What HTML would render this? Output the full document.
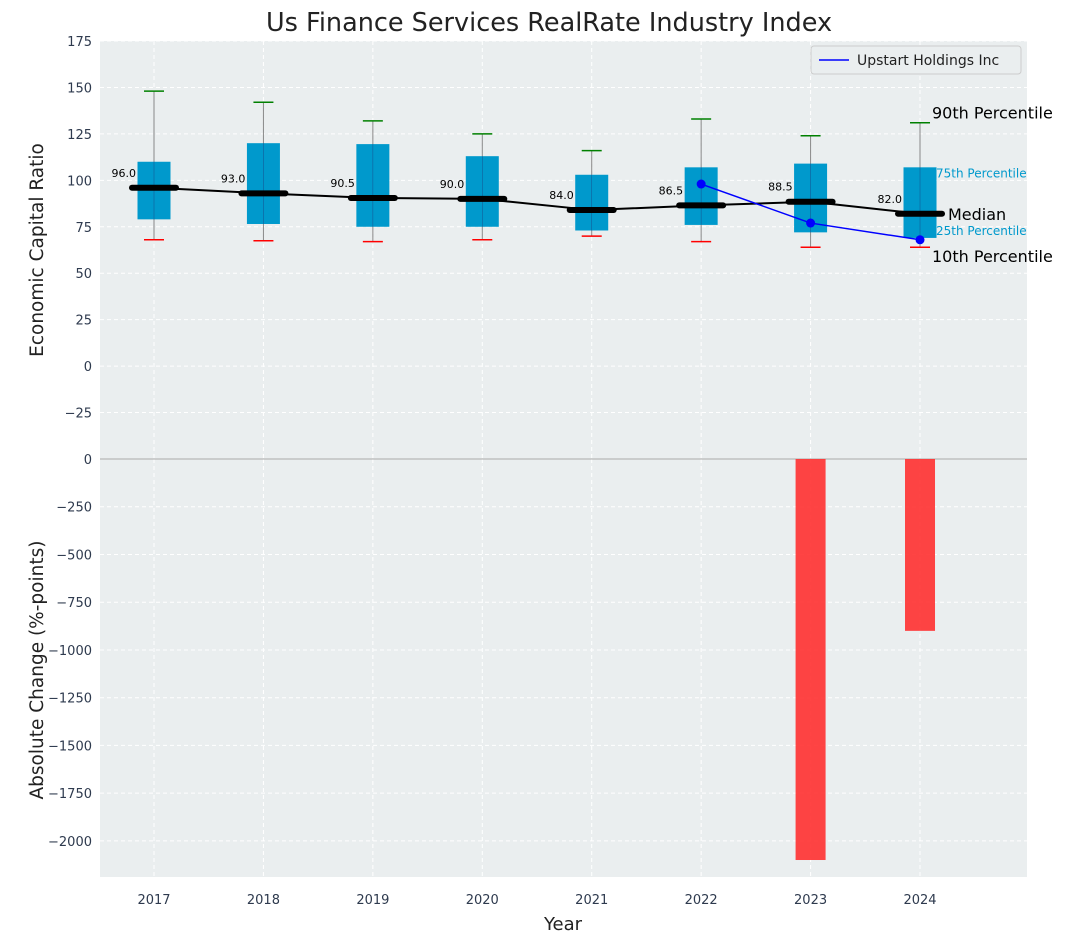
<!DOCTYPE html>
<html><head><meta charset="utf-8"><style>
html,body{margin:0;padding:0;background:#fff;}
svg{display:block;font-family:"DejaVu Sans","Liberation Sans",sans-serif;}
</style></head><body>
<svg id="chart" width="1067" height="942" viewBox="0 0 1067 942" xmlns="http://www.w3.org/2000/svg">
<text x="549" y="31" font-size="25.5" text-anchor="middle" fill="#222">Us Finance Services RealRate Industry Index</text>
<g id="topPanel"></g>
<g id="botPanel"></g>
</svg>
<script>
const years=[2017,2018,2019,2020,2021,2022,2023,2024];
const p10=[68,67.5,67,68,70,67,64,64];
const p25=[79,76.5,75,75,73,76,72,69];
const med=[96,93,90.5,90,84,86.5,88.5,82];
const p75=[110,120,119.5,113,103,107,109,107];
const p90=[148,142,132,125,116,133,124,131];
const compYears=[2022,2023,2024];
const compVals=[98,77,68];
const changeYears=[2023,2024];
const changeVals=[-2100,-900];
const topTicks=[175,150,125,100,75,50,25,0,-25];
const botTicks=[0,-250,-500,-750,-1000,-1250,-1500,-1750,-2000];

const NS="http://www.w3.org/2000/svg";
const L=100,R=1027;
const x=v=>154+(v-2017)*109.43;
const yt=v=>459-(v+50)/225*418;
const yb=v=>459-v/2189*418;
function mk(p,tag,a,txt){const el=document.createElementNS(NS,tag);for(const k in a)el.setAttribute(k,a[k]);if(txt!==undefined)el.textContent=txt;p.appendChild(el);return el;}
const topG=document.getElementById('topPanel'),botG=document.getElementById('botPanel');

let e=mk(topG,'rect',{x:L,y:41,width:R-L,height:418,fill:'#eaeeef'});


e=mk(botG,'rect',{x:L,y:459,width:R-L,height:418,fill:'#eaeeef'});



topTicks.forEach(t=>{const Y=yt(t);
 mk(topG,'line',{x1:L,x2:R,y1:Y,y2:Y,stroke:'#fff','stroke-dasharray':'4,3','stroke-width':1});
 e=mk(topG,'text',{x:L-8,y:Y+5,'font-size':13,'text-anchor':'end',fill:'#2e3a4e'},String(t).replace('-','−'));
 
 });
botTicks.forEach(t=>{const Y=yb(t);
 mk(botG,'line',{x1:L,x2:R,y1:Y,y2:Y,stroke:'#fff','stroke-dasharray':'4,3','stroke-width':1});
 e=mk(botG,'text',{x:L-8,y:Y+5,'font-size':13,'text-anchor':'end',fill:'#2e3a4e'},String(t).replace('-','−'));
 
 });
years.forEach(yr=>{const X=x(yr);
 mk(topG,'line',{x1:X,x2:X,y1:41,y2:459,stroke:'#fff','stroke-dasharray':'4,3'});
 mk(botG,'line',{x1:X,x2:X,y1:459,y2:877,stroke:'#fff','stroke-dasharray':'4,3'});
 e=mk(botG,'text',{x:X,y:904,'font-size':13,'text-anchor':'middle',fill:'#2e3a4e'},yr);
 
 });
mk(botG,'line',{x1:L,x2:R,y1:yb(0),y2:yb(0),stroke:'#aaa','stroke-width':1});

years.forEach((yr,i)=>{const X=x(yr);
 mk(topG,'line',{x1:X,x2:X,y1:yt(p10[i]),y2:yt(p90[i]),stroke:'#888','stroke-width':1});
 e=mk(topG,'rect',{x:X-16.5,y:yt(p75[i]),width:33,height:yt(p25[i])-yt(p75[i]),fill:'#0099cc'});
 
 
 mk(topG,'line',{x1:X,x2:X,y1:yt(p75[i]),y2:yt(p25[i]),stroke:'#226','stroke-width':0.6,opacity:0.5});
 mk(topG,'line',{x1:X-10,x2:X+10,y1:yt(p90[i]),y2:yt(p90[i]),stroke:'green','stroke-width':1.5});
 mk(topG,'line',{x1:X-10,x2:X+10,y1:yt(p10[i]),y2:yt(p10[i]),stroke:'red','stroke-width':1.5});
 e=mk(topG,'line',{x1:X-22,x2:X+22,y1:yt(med[i]),y2:yt(med[i]),stroke:'#000','stroke-width':6,'stroke-linecap':'round'});
 
 
 e=mk(topG,'text',{x:X-18,y:yt(med[i])-11,'font-size':11,'text-anchor':'end',fill:'#000'},med[i].toFixed(1));
 
 
});
e=mk(topG,'polyline',{points:years.map((yr,i)=>x(yr)+','+yt(med[i])).join(' '),fill:'none',stroke:'#000','stroke-width':2});


e=mk(topG,'polyline',{points:compYears.map((yr,i)=>x(yr)+','+yt(compVals[i])).join(' '),fill:'none',stroke:'blue','stroke-width':1.5});


compYears.forEach((yr,i)=>{e=mk(topG,'circle',{cx:x(yr),cy:yt(compVals[i]),r:4.5,fill:'blue'});
 
 });

const last=years.length-1,XL=x(years[last]);
[['90th Percentile',yt(p90[last])-4,16,'#000',12],['75th Percentile',yt(p75[last])+10,12,'#0099cc',16],['Median',yt(med[last])+6,16,'#000',28],['25th Percentile',yt(p25[last])-3,12,'#0099cc',16],['10th Percentile',yt(p10[last])+15,16,'#000',12]].forEach(a=>{
 e=mk(topG,'text',{x:XL+a[4],y:a[1],'font-size':a[2],fill:a[3]},a[0]);
 
 });

changeYears.forEach((yr,i)=>{const v=changeVals[i];
 e=mk(botG,'rect',{x:x(yr)-15,y:yb(0),width:30,height:yb(v)-yb(0),fill:'#ff3030','fill-opacity':0.9});
 
 });

e=mk(topG,'g',{});


mk(e,'rect',{x:811,y:46,width:210,height:28,fill:'#eaeeef',stroke:'#ccc',rx:3});
mk(e,'line',{x1:819,x2:849,y1:60,y2:60,stroke:'blue','stroke-width':1.5});
mk(e,'text',{x:857,y:65,'font-size':14,fill:'#222'},'Upstart Holdings Inc');

e=mk(topG,'text',{x:43,y:250,'font-size':18.5,'text-anchor':'middle',fill:'#222',transform:'rotate(-90 43 250)'},'Economic Capital Ratio');


e=mk(botG,'text',{x:43,y:670,'font-size':18.5,'text-anchor':'middle',fill:'#222',transform:'rotate(-90 43 670)'},'Absolute Change (%-points)');


e=mk(botG,'text',{x:563,y:930,'font-size':18,'text-anchor':'middle',fill:'#222'},'Year');


</script>
</body></html>
